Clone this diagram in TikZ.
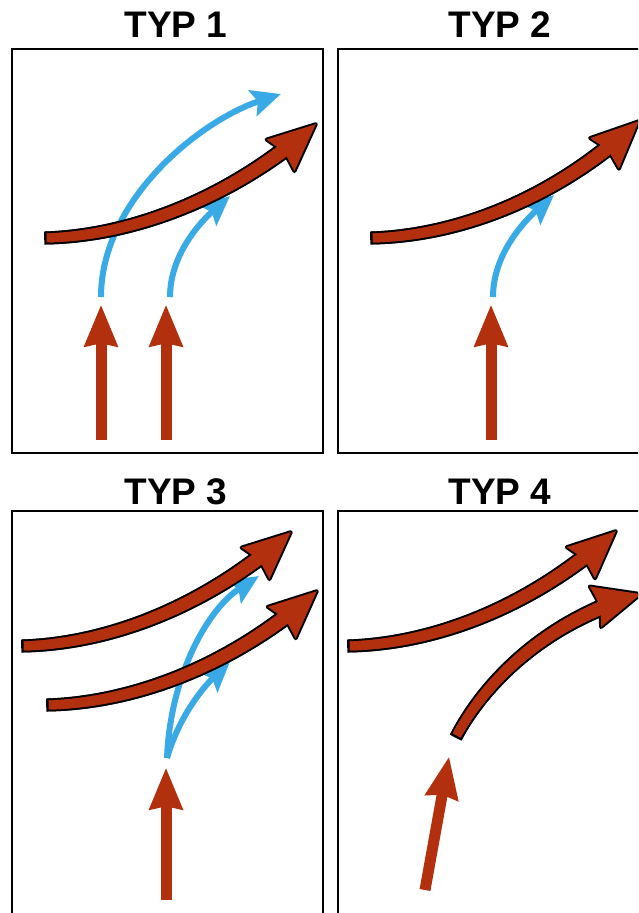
\documentclass[tikz,border=0pt]{standalone}
\usepackage{fontspec}
\setmainfont{Liberation Sans}
\usetikzlibrary{decorations.markings}
\definecolor{flowbrown}{RGB}{178,48,14}
\definecolor{flowblue}{RGB}{58,170,230}

\tikzset{
  panel/.style={draw=black, line width=1.5pt},
  title/.style={font=\fontsize{37}{40}\selectfont\bfseries, anchor=base, inner sep=0pt},
  blueline/.style={draw=flowblue, line width=6pt, shorten >=20pt},
}

% a band along the path, widening from start to end; stops 28pt before the end
% #1 path, #2 colour, #3 inset of the half width, #4 offset from the start
\newcommand\bandpass[4]{%
  \path[decorate, decoration={markings, mark=between positions 0 and 1 step 0.8pt with {%
    \pgfmathsetmacro\dd{\pgfkeysvalueof{/pgf/decoration/mark info/distance from start}}%
    \pgfmathsetmacro\keep{and(\dd>=#4, \pgfdecoratedpathlength-\dd>28)}%
    \ifdim\keep pt>0.5pt
      \pgfmathsetmacro\hw{6.5+2.5*\dd/\pgfdecoratedpathlength-#3}%
      \fill[#2] (-0.8,-\hw) -- (0.8,-\hw) -- (0.8,\hw) -- (-0.8,\hw) -- cycle;
    \fi
  }}] #1;
}
% head of a thick current, drawn at the end of the path
\newcommand\bighead[2]{%
  \path[decorate, decoration={markings, mark=at position -0.3pt with
    {\path[#2] (0,0) -- (-47,21) -- (-42,0) -- (-47,-21) -- cycle;}}] #1;
}
% thick brown current with black outline
\newcommand\flowarrow[1]{%
  \bandpass{#1}{black}{0}{0}
  \bighead{#1}{fill=black, draw=black, line width=4pt, line join=round}
  \bandpass{#1}{flowbrown}{2}{2}
  \bighead{#1}{fill=flowbrown}
}
% thin blue deflected stream
\newcommand\jetarrow[1]{%
  \draw[blueline] #1;
  \path[decorate, decoration={markings, mark=at position -0.3pt with
    {\fill[flowblue] (0,0) -- (-30,14) -- (-24,0) -- (-30,-14) -- cycle;}}] #1;
}
% plain brown rising arrow
\newcommand\risearrow[1]{%
  \draw[flowbrown, line width=11pt, shorten >=36pt] #1;
  \path[decorate, decoration={markings, mark=at position -0.3pt with
    {\fill[flowbrown] (0,0) -- (-42,17.5) -- (-38,0) -- (-42,-17.5) -- cycle;}}] #1;
}

\begin{document}
\begin{tikzpicture}[x=1pt, y=-1pt]
\path[use as bounding box, clip] (0,0) rectangle (638,913);
\fill[white] (0,0) rectangle (638,913);

% ---- type 1
\draw[panel] (12,49) rectangle (323,453);
\node[title] (t1) at (176,37) {TYP 1};
\jetarrow{(101,297) .. controls (101,200) and (200,120) .. (281,94)}
\jetarrow{(170,297) .. controls (170,255) and (200,222) .. (230,196)}
\flowarrow{(45,238) .. controls (130,236) and (230,200) .. (316,124)}
\risearrow{(101,440) -- (101,305)}
\risearrow{(166,440) -- (166,305)}

% ---- type 2
\draw[panel] (338,49) rectangle (660,453);
\node[title] (t2) at (500,37) {TYP 2};
\jetarrow{(493,297) .. controls (493,255) and (523,222) .. (554,195)}
\flowarrow{(371,238) .. controls (456,236) and (555,200) .. (639,121)}
\risearrow{(491,440) -- (491,305)}

% ---- type 3
\draw[panel] (12,511) rectangle (323,930);
\node[title] (t3) at (176,504) {TYP 3};
\jetarrow{(167,758) .. controls (170,680) and (205,610) .. (259,576)}
\jetarrow{(167,758) .. controls (178,720) and (200,690) .. (230,662)}
\flowarrow{(22,646) .. controls (107,644) and (205,608) .. (291,532)}
\flowarrow{(47,705) .. controls (132,703) and (232,667) .. (317,591)}
\risearrow{(166,900) -- (166,768)}

% ---- type 4
\draw[panel] (338,511) rectangle (660,930);
\node[title] (t4) at (500,504) {TYP 4};
\flowarrow{(348,646) .. controls (433,644) and (531,608) .. (616,531)}
\flowarrow{(456,737) .. controls (475,700) and (530,625) .. (641,594)}
\risearrow{(425,890) -- (449,757)}
\end{tikzpicture}
\end{document}
